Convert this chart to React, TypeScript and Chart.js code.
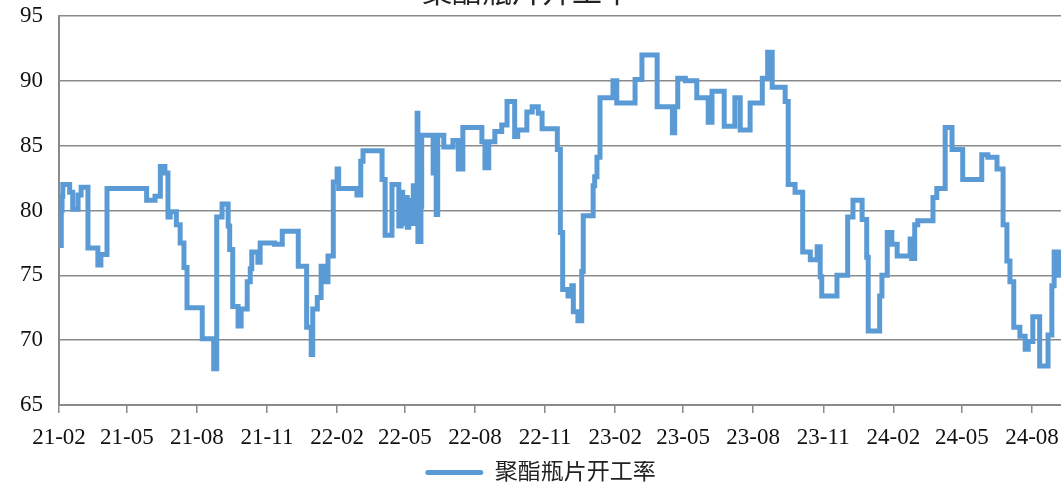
import React, { useEffect, useRef } from "react";
import { Chart, registerables } from "chart.js";

Chart.register(...registerables);

const chartTitle = "聚酯瓶片开工率";
const seriesName = "聚酯瓶片开工率";
const startDateUTC = Date.UTC(2021, 1, 1); // 2021-02-01
const axisEndDay = 1315; // days after start where the axis ends

// days since 2021-02-01 at which the operating rate changes
const changeDays = [
  0, 3, 4, 5, 14, 18, 25, 29, 38, 51, 55, 63, 115, 126, 133, 139, 143, 146, 154, 159,
  164, 168, 188, 203, 207, 214, 222, 224, 228, 235, 239, 247, 251, 253, 261, 264, 283, 293, 314, 325,
  331, 333, 339, 344, 350, 353, 360, 365, 367, 391, 396, 399, 424, 428, 437, 446, 449, 451, 454, 457,
  459, 462, 465, 467, 470, 471, 475, 476, 491, 495, 497, 505, 517, 524, 530, 555, 559, 564, 572, 581,
  588, 598, 602, 614, 621, 629, 634, 654, 658, 661, 668, 673, 675, 681, 686, 688, 701, 703, 706, 710,
  727, 732, 756, 765, 785, 805, 808, 812, 822, 837, 852, 857, 873, 887, 894, 907, 923, 930, 936, 953,
  957, 966, 976, 986, 995, 999, 1001, 1021, 1035, 1042, 1054, 1060, 1062, 1077, 1080, 1087, 1093, 1100, 1117, 1119,
  1123, 1127, 1147, 1152, 1163, 1172, 1186, 1211, 1219, 1231, 1239, 1244, 1248, 1253, 1261, 1268, 1272, 1278, 1287, 1298,
  1303, 1306, 1312,
];

// operating rate (%) from each change day on
const rateValues = [
  77.3, 80.0, 81.1, 82.0, 81.4, 80.1, 81.2, 81.8, 77.1, 75.8, 76.6, 81.7, 80.8, 81.1, 83.4, 82.9, 79.5, 79.9, 78.9, 77.5,
  75.6, 72.5, 70.1, 67.8, 79.5, 80.5, 78.8, 77.0, 72.6, 71.1, 72.4, 74.5, 75.5, 76.8, 76.0, 77.5, 77.4, 78.4, 75.7, 71.0,
  68.9, 72.4, 73.3, 75.7, 74.5, 76.5, 82.2, 83.2, 81.7, 81.2, 83.8, 84.6, 82.4, 78.1, 82.0, 78.8, 81.4, 79.0, 81.0, 78.7,
  80.8, 79.0, 81.9, 79.5, 87.5, 77.6, 80.3, 85.8, 82.9, 79.7, 85.8, 84.9, 85.4, 83.2, 86.4, 85.3, 83.3, 85.3, 86.1, 86.6,
  88.4, 85.7, 86.2, 87.6, 88.0, 87.5, 86.3, 84.7, 78.3, 73.9, 73.4, 74.2, 72.2, 71.5, 75.3, 79.6, 81.9, 82.6, 84.1, 88.7,
  90.0, 88.3, 90.1, 92.0, 88.0, 86.0, 88.0, 90.2, 90.0, 88.7, 86.8, 89.2, 86.5, 88.7, 86.2, 88.3, 90.2, 92.2, 89.5, 88.4,
  82.0, 81.4, 76.8, 76.2, 77.2, 74.9, 73.4, 75.0, 79.5, 80.8, 79.3, 76.4, 70.7, 73.4, 75.0, 78.3, 77.4, 76.5, 77.8, 76.3,
  78.9, 79.2, 81.0, 81.7, 86.4, 84.7, 82.4, 84.3, 84.1, 83.2, 78.9, 76.1, 74.5, 71.0, 70.3, 69.3, 69.9, 71.8, 68.0, 70.4,
  74.2, 76.8, 75.0,
];

const xTickLabels = [
  "21-02", "21-05", "21-08", "21-11", "22-02", "22-05", "22-08",
  "22-11", "23-02", "23-05", "23-08", "23-11", "24-02", "24-05", "24-08",
];
const yTicks = [65, 70, 75, 80, 85, 90, 95];

const LINE_COLOR = "#5B9BD5";
const GRID_COLOR = "#8a8a8a";
const FONT_FAMILY = '"Liberation Serif", "Noto Sans CJK SC", serif';

function labelToDay(label: string): number {
  const [yy, mm] = label.split("-").map(Number);
  const t = Date.UTC(2000 + yy, mm - 1, 1);
  return Math.round((t - startDateUTC) / 86400000);
}

export default function App() {
  const canvasRef = useRef<HTMLCanvasElement | null>(null);

  useEffect(() => {
    if (!canvasRef.current) return;
    const points = changeDays.map((d, i) => ({ x: d, y: rateValues[i] }));
    points.push({ x: axisEndDay, y: rateValues[rateValues.length - 1] });
    const tickDays = xTickLabels.map(labelToDay);

    const titlePlugin = {
      id: "partialTitle",
      afterDraw(chart: any) {
        const ctx = chart.ctx;
        ctx.save();
        ctx.font = '30px "Noto Sans CJK SC", sans-serif';
        ctx.fillStyle = "#222";
        ctx.textAlign = "center";
        ctx.textBaseline = "alphabetic";
        ctx.fillText(chartTitle, 527, 2);
        ctx.restore();
      },
    };

    const chart = new Chart(canvasRef.current, {
      type: "line",
      data: {
        datasets: [
          {
            label: seriesName,
            data: points,
            borderColor: LINE_COLOR,
            backgroundColor: LINE_COLOR,
            borderWidth: 5,
            stepped: "before",
            pointRadius: 0,
            fill: false,
            borderJoinStyle: "miter",
            borderCapStyle: "butt",
          },
        ],
      },
      options: {
        animation: false,
        responsive: false,
        maintainAspectRatio: false,
        layout: { padding: { top: 16, right: 0, left: 20, bottom: 0 } },
        plugins: {
          title: { display: false },
          tooltip: { enabled: false },
          legend: {
            display: true,
            position: "bottom",
            labels: {
              color: "#222",
              font: { family: FONT_FAMILY, size: 23 },
              boxWidth: 58,
              boxHeight: 5,
              padding: 0,
              generateLabels: () => [
                {
                  text: seriesName,
                  fillStyle: LINE_COLOR,
                  strokeStyle: LINE_COLOR,
                  lineWidth: 0,
                  borderRadius: 2.5,
                  datasetIndex: 0,
                  hidden: false,
                  fontColor: "#222",
                },
              ],
            },
          },
        },
        scales: {
          x: {
            type: "linear",
            min: 0,
            max: axisEndDay,
            afterBuildTicks: (scale: any) => {
              scale.ticks = tickDays.map((v) => ({ value: v }));
            },
            afterFit: (scale: any) => {
              scale.height = 56;
              scale.paddingLeft = 0;
              scale.paddingRight = 0;
            },
            ticks: {
              autoSkip: false,
              maxRotation: 0,
              color: "#111",
              font: { family: FONT_FAMILY, size: 23 },
              padding: 11,
              callback: (value: any) => {
                const idx = tickDays.indexOf(Number(value));
                return idx >= 0 ? xTickLabels[idx] : "";
              },
            },
            grid: {
              display: true,
              drawOnChartArea: false,
              drawTicks: true,
              tickLength: 8,
              color: GRID_COLOR,
              lineWidth: 1.5,
            },
            border: { display: true, color: GRID_COLOR, width: 2 },
          },
          y: {
            min: 65,
            max: 95,
            afterBuildTicks: (scale: any) => {
              scale.ticks = yTicks.map((v) => ({ value: v }));
            },
            afterFit: (scale: any) => {
              scale.width = 39;
              scale.paddingTop = 0;
              scale.paddingBottom = 0;
            },
            ticks: {
              color: "#111",
              font: { family: FONT_FAMILY, size: 23 },
              padding: 16,
            },
            grid: {
              display: true,
              drawTicks: false,
              color: GRID_COLOR,
              lineWidth: 1.5,
            },
            border: { display: true, color: GRID_COLOR, width: 2 },
          },
        },
      },
      plugins: [titlePlugin],
    } as any);

    return () => chart.destroy();
  }, []);

  return (
    <div
      style={{
        position: "fixed",
        left: 0,
        top: 0,
        width: 1061,
        height: 484,
        overflow: "hidden",
        background: "#fff",
      }}
    >
      <canvas ref={canvasRef} width={1061} height={494} style={{ display: "block", width: 1061, height: 494 }} />
    </div>
  );
}
